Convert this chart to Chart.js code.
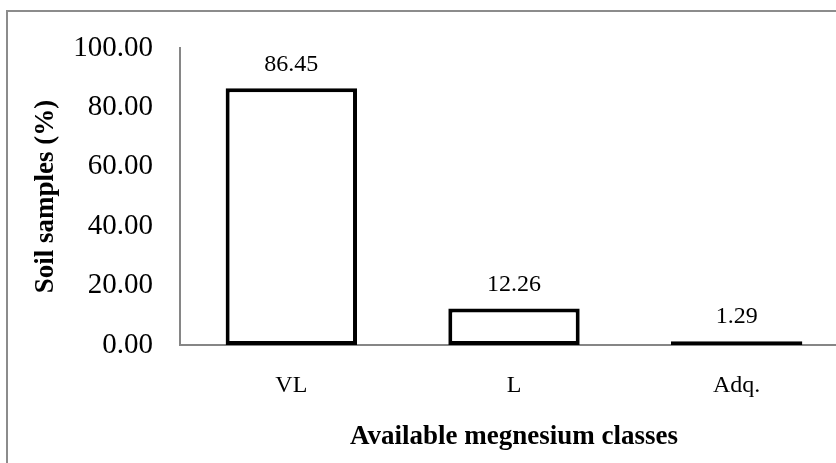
<!DOCTYPE html>
<html>
<head>
<meta charset="utf-8">
<script src="https://cdn.jsdelivr.net/npm/chart.js@4/dist/chart.umd.min.js"></script>
<style>
  html, body { margin: 0; padding: 0; background: #fff; overflow: hidden; width: 836px; height: 463px; }
  #wrap { position: absolute; left: 6px; top: 10px; width: 840px; height: 451px;
          border-left: 2px solid #8c8c8c; border-top: 2px solid #8c8c8c; }
  canvas { display: block; }
</style>
</head>
<body>
<div id="wrap"><canvas id="cMg" width="840" height="451"></canvas></div>
<script>
const CLASSES = ['VL', 'L', 'Adq.'];
const PCT     = [86.45, 12.26, 1.29];
const Y_MIN = 0, Y_MAX = 100, Y_STEP = 20;

const SERIF = "'Liberation Serif', 'Times New Roman', serif";
const AXIS_GREY = '#868686';

// value labels above each bar
const barLabels = {
  id: 'barLabels',
  afterDatasetsDraw(chart) {
    const ctx = chart.ctx;
    const meta = chart.getDatasetMeta(0);
    ctx.save();
    ctx.font = '24px ' + SERIF;
    ctx.fillStyle = '#000';
    ctx.textAlign = 'center';
    ctx.textBaseline = 'middle';
    meta.data.forEach((bar, i) => {
      ctx.fillText(PCT[i].toFixed(2), bar.x, bar.y - 24);
    });
    ctx.restore();
  },
};

new Chart(document.getElementById('cMg'), {
  type: 'bar',
  data: {
    labels: CLASSES,
    datasets: [{
      data: PCT,
      backgroundColor: '#fff',
      borderColor: '#000',
      borderWidth: 4,
      borderSkipped: false,
      categoryPercentage: 1,
      barPercentage: 0.59,
    }],
  },
  options: {
    responsive: false, animation: false,
    layout: { padding: { top: 36, right: 0, bottom: 0, left: 0 } },
    plugins: { legend: { display: false }, tooltip: { enabled: false } },
    scales: {
      x: {
        grid: { display: false, drawTicks: false },
        border: { display: true, color: AXIS_GREY, width: 2 },
        ticks: { color: '#000', font: { family: SERIF, size: 24 }, padding: 26 },
        title: { display: true, text: 'Available megnesium classes', color: '#000',
                 font: { family: SERIF, size: 27, weight: 'bold' }, padding: { top: 0, bottom: 10 } },
        afterFit: s => { s.height = 118; s.paddingLeft = 0; s.paddingRight = 0; },
      },
      y: {
        min: Y_MIN, max: Y_MAX,
        grid: { display: false, drawTicks: false },
        border: { display: true, color: AXIS_GREY, width: 2 },
        ticks: { stepSize: Y_STEP, color: '#000', font: { family: SERIF, size: 29 }, padding: 27,
                 callback: v => v.toFixed(2) },
        title: { display: true, text: 'Soil samples (%)', color: '#000',
                 font: { family: SERIF, size: 27, weight: 'bold' }, padding: { top: 22, bottom: 0 } },
        afterFit: s => { s.width = 172; s.paddingTop = 0; s.paddingBottom = 0; },
      },
    },
  },
  plugins: [barLabels],
});
</script>
</body>
</html>
